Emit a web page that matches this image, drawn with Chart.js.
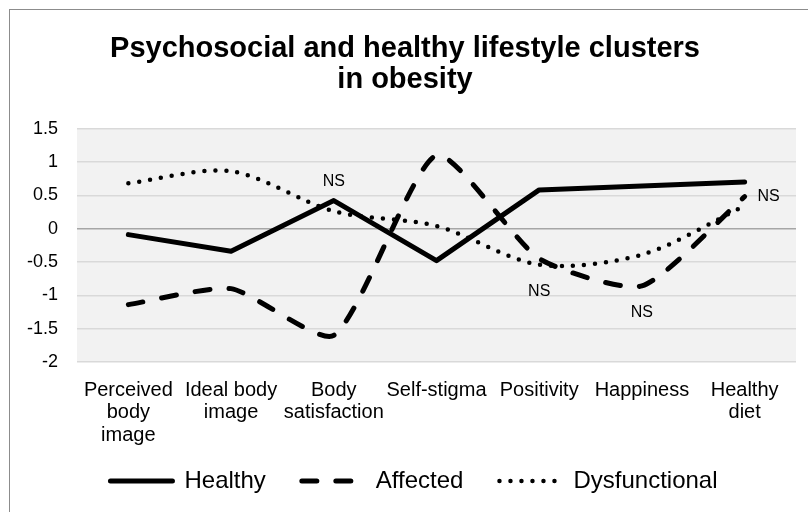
<!DOCTYPE html>
<html>
<head>
<meta charset="utf-8">
<title>Psychosocial and healthy lifestyle clusters in obesity</title>
<script src="https://cdn.jsdelivr.net/npm/chart.js@4.4.1/dist/chart.umd.min.js"></script>
<style>
    html, body { margin: 0; padding: 0; background: #fff; overflow: hidden; }
    .frame { position: absolute; left: 9px; top: 9px; width: 900px; height: 700px; border: 1.5px solid #8c8c8c; }
    .chart-box { position: absolute; left: 0; top: 0; width: 808px; height: 512px; }
</style>
</head>
<body>
<div class="frame"></div>
<div class="chart-box"><canvas id="clusterChart"></canvas></div>
<script>
// Données
const categories = [
    ['Perceived', 'body', 'image'],
    ['Ideal body', 'image'],
    ['Body', 'satisfaction'],
    'Self-stigma',
    'Positivity',
    'Happiness',
    ['Healthy', 'diet']
];
const healthy = [-0.09, -0.34, 0.42, -0.48, 0.58, 0.64, 0.70];
const affected = [-1.14, -0.90, -1.60, 1.10, -0.45, -0.86, 0.48];
const dysfunctional = [0.68, 0.86, 0.26, 0.04, -0.54, -0.39, 0.34];
const yTicks = [-2, -1.5, -1, -0.5, 0, 0.5, 1, 1.5];

// Étiquettes "NS" : série, point, côté
const nsLabels = [
    { series: 0, index: 2, side: 'above' },
    { series: 2, index: 4, side: 'below' },
    { series: 1, index: 5, side: 'below' },
    { series: 1, index: 6, side: 'right' }
];

const FONT = "'Liberation Sans', Arial, sans-serif";

// Fond gris de la zone de tracé, légende un peu décalée à droite
const plotBackground = {
    id: 'plotBackground',
    afterLayout(chart) {
        if (chart.legend) {
            chart.legend.left += 9;
            chart.legend.right += 9;
        }
        // laisser la place à la 3e ligne des étiquettes de l'axe x
        const x = chart.scales.x;
        x.bottom = x.top + 86;
    },
    beforeDraw(chart) {
        const { ctx, chartArea } = chart;
        ctx.save();
        ctx.fillStyle = '#f2f2f2';
        ctx.fillRect(chartArea.left, chartArea.top, chartArea.width, chartArea.height);
        ctx.restore();
    }
};

// Texte "NS" placé à côté des points
const nsPlugin = {
    id: 'nsPlugin',
    afterDatasetsDraw(chart) {
        const ctx = chart.ctx;
        ctx.save();
        ctx.font = '16px ' + FONT;
        ctx.fillStyle = '#000';
        ctx.textAlign = 'center';
        ctx.textBaseline = 'middle';
        nsLabels.forEach(function(item) {
            const pt = chart.getDatasetMeta(item.series).data[item.index];
            let x = pt.x, y = pt.y;
            if (item.side === 'above') y -= 19;
            if (item.side === 'below') y += 27;
            if (item.side === 'right') x += 24;
            ctx.fillText('NS', x, y);
        });
        ctx.restore();
    }
};

Chart.defaults.color = '#000';
Chart.defaults.font.family = FONT;

const ctx = document.getElementById('clusterChart').getContext('2d');
new Chart(ctx, {
    type: 'line',
    data: {
        labels: categories,
        datasets: [{
            label: 'Healthy',
            data: healthy,
            borderColor: '#000',
            backgroundColor: '#000',
            borderWidth: 5,
            borderCapStyle: 'round',
            borderJoinStyle: 'round',
            tension: 0,
            pointRadius: 0
        }, {
            label: 'Affected',
            data: affected,
            borderColor: '#000',
            backgroundColor: '#000',
            borderWidth: 5,
            borderDash: [15, 19],
            borderCapStyle: 'round',
            tension: 0.2,
            pointRadius: 0
        }, {
            label: 'Dysfunctional',
            data: dysfunctional,
            borderColor: '#000',
            backgroundColor: '#000',
            borderWidth: 4.5,
            borderDash: [0, 11],
            borderCapStyle: 'round',
            tension: 0.3,
            pointRadius: 0
        }]
    },
    options: {
        responsive: true,
        maintainAspectRatio: false,
        animation: false,
        layout: { padding: { left: 14, right: 12, top: 0, bottom: 9 } },
        plugins: {
            title: {
                display: true,
                text: ['Psychosocial and healthy lifestyle clusters', 'in obesity'],
                font: { size: 29, weight: 'bold', lineHeight: 1.07 },
                color: '#000',
                padding: { top: 33.5, bottom: 33 }
            },
            legend: {
                position: 'bottom',
                labels: {
                    usePointStyle: true,
                    pointStyleWidth: 62,
                    padding: 36,
                    font: { size: 24 },
                    color: '#000',
                    generateLabels: function(chart) {
                        return chart.data.datasets.map(function(ds, i) {
                            return {
                                text: ds.label,
                                strokeStyle: ds.borderColor,
                                fillStyle: ds.borderColor,
                                lineWidth: ds.borderWidth,
                                lineDash: ds.borderDash || [],
                                lineCap: ds.borderCapStyle,
                                pointStyle: 'line',
                                fontColor: '#000',
                                hidden: false,
                                datasetIndex: i
                            };
                        });
                    }
                }
            },
            tooltip: { enabled: false }
        },
        scales: {
            x: {
                offset: true,
                grid: { display: false, offset: true },
                border: { display: false },
                ticks: {
                    autoSkip: false,
                    maxRotation: 0,
                    minRotation: 0,
                    padding: 9,
                    font: { size: 20, lineHeight: 1.12 }
                },
                afterFit: function(scale) {
                    scale.height = 71;
                }
            },
            y: {
                min: yTicks[0],
                max: yTicks[yTicks.length - 1],
                afterBuildTicks: function(scale) {
                    scale.ticks = yTicks.map(v => ({ value: v }));
                },
                grid: {
                    drawTicks: false,
                    lineWidth: 1.5,
                    color: function(c) {
                        return c.tick && c.tick.value === 0 ? '#a6a6a6' : '#d9d9d9';
                    }
                },
                border: { display: false },
                ticks: {
                    padding: 19,
                    font: { size: 18 },
                    callback: function(value) {
                        return String(value);
                    }
                },
                afterFit: function(scale) {
                    scale.width = 63;
                }
            }
        }
    },
    plugins: [plotBackground, nsPlugin]
});
</script>
</body>
</html>
